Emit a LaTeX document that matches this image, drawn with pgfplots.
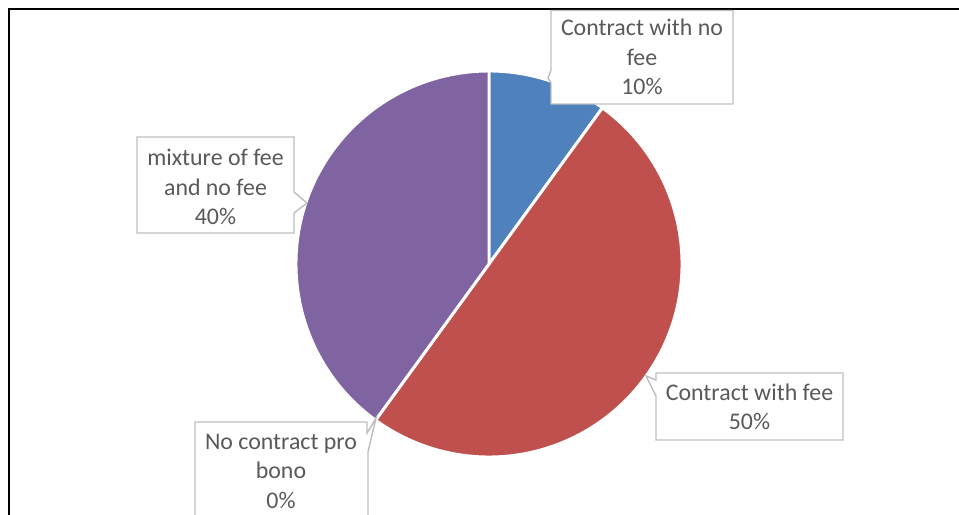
\documentclass[border=0pt]{standalone}
\usepackage{pgfplots}
\pgfplotsset{compat=1.18}
\usepackage{fontspec}
\setmainfont{Carlito}
\definecolor{pieblue}{HTML}{4F81BD}
\definecolor{piered}{HTML}{C0504D}
\definecolor{piegray}{HTML}{9BBB59}
\definecolor{piepurple}{HTML}{8064A2}
\definecolor{lbltext}{HTML}{595959}
\definecolor{lblbox}{HTML}{BFBFBF}
\begin{document}
\begin{tikzpicture}
\begin{axis}[
  width=719.25pt, height=385.5pt, scale only axis,
  xmin=0, xmax=959, ymin=-514, ymax=0,
  hide axis, clip=false,
]
% pie: values in percent, clockwise from 12 o'clock
\pgfplotsextra{%
  \gdef\startang{90}%
  \foreach \v/\col in {10/pieblue,50/piered,0/piegray,40/piepurple}{%
    \pgfmathsetmacro\endang{\startang-3.6*\v}%
    \ifdim\v pt>0pt
      \fill[\col, draw=white, line width=2.2pt, line join=round]
        (axis cs:489,-264) -- ++(\startang:144.75pt)
        arc[start angle=\startang, end angle=\endang, radius=144.75pt] -- cycle;
    \fi
    \xdef\startang{\endang}%
  }%
  % frame lines
  \draw[black, line width=1.5pt] (axis cs:8.5,-520) -- (axis cs:8.5,-8.7) -- (axis cs:970,-8.7);
  % callout boxes
  \begin{scope}[draw=lblbox, line width=1.1pt, fill=white]
    \filldraw (axis cs:551,-10.5) -- (axis cs:733,-10.5) -- (axis cs:733,-104) -- (axis cs:551,-104)
      -- (axis cs:551,-83) -- (axis cs:548,-78) -- (axis cs:551,-70) -- cycle;
    \filldraw (axis cs:137,-137) -- (axis cs:294,-137) -- (axis cs:294,-192) -- (axis cs:307,-203)
      -- (axis cs:294,-213) -- (axis cs:294,-233) -- (axis cs:137,-233) -- cycle;
    \filldraw (axis cs:656,-373) -- (axis cs:843,-373) -- (axis cs:843,-440) -- (axis cs:656,-440)
      -- (axis cs:656,-396) -- (axis cs:646,-376) -- (axis cs:656,-380) -- cycle;
    \filldraw (axis cs:195,-422) -- (axis cs:367,-422) -- (axis cs:367,-433) -- (axis cs:376,-418)
      -- (axis cs:368,-452) -- (axis cs:368,-530) -- (axis cs:195,-530) -- cycle;
  \end{scope}
  \begin{scope}[every node/.style={align=center, inner sep=0pt, text=lbltext,
      font=\fontsize{17.9}{22.1}\selectfont}]
    \node at (axis cs:642,-57) {Contract with no\\fee\\10\%};
    \node at (axis cs:215.5,-187) {mixture of fee\\and no fee\\40\%};
    \node at (axis cs:749.5,-407) {Contract with fee\\50\%};
    \node at (axis cs:281,-471) {No contract pro\\bono\\0\%};
  \end{scope}
}
\end{axis}
\pgfresetboundingbox
\path (current axis.south west) rectangle (current axis.north east);
\end{tikzpicture}
\end{document}
